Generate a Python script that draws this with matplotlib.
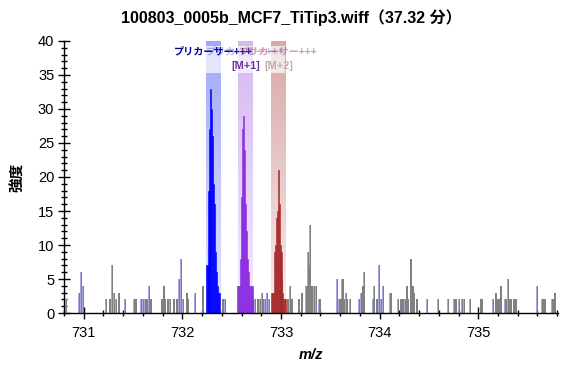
import numpy as np
import matplotlib
matplotlib.use("Agg")
import matplotlib.pyplot as plt
from matplotlib.colors import LinearSegmentedColormap

# ---------------- data ----------------
title = "100803_0005b_MCF7_TiTip3.wiff（37.32 分）"
x_label = "m/z"
y_label = "強度"

noise_mz = [730.825, 730.955, 730.977, 730.993, 731.230, 731.263, 731.287, 731.307,
            731.327, 731.357, 731.422, 731.516, 731.533, 731.584, 731.607, 731.628,
            731.645, 731.665, 731.678, 731.793, 731.813, 731.826, 731.853, 731.880,
            731.914, 731.944, 731.968, 731.988, 732.012, 732.046, 732.063, 732.130,
            732.207, 732.410, 732.435, 732.562, 732.720, 732.740, 732.765, 732.790,
            732.810, 732.820, 732.840, 732.860, 732.883, 733.068, 733.092, 733.108,
            733.180, 733.210, 733.260, 733.277, 733.287, 733.300, 733.310, 733.320,
            733.335, 733.355, 733.390, 733.400, 733.568, 733.574, 733.590, 733.608,
            733.625, 733.642, 733.662, 733.675, 733.700, 733.797, 733.817, 733.830,
            733.846, 733.938, 733.948, 733.972, 733.999, 734.016, 734.040, 734.107,
            734.117, 734.190, 734.216, 734.236, 734.260, 734.276, 734.290, 734.317,
            734.337, 734.353, 734.378, 734.485, 734.596, 734.697, 734.755, 734.772,
            734.806, 734.840, 734.856, 734.917, 735.025, 735.035, 735.153, 735.177,
            735.193, 735.210, 735.228, 735.278, 735.305, 735.320, 735.337, 735.360,
            735.380, 735.598, 735.653, 735.676, 735.750, 735.767, 735.777]
noise_int = [2, 3, 6, 4, 2, 2, 7, 3,
             2, 3, 2, 2, 2, 2, 2, 2,
             2, 4, 2, 2, 4, 2, 2, 2,
             2, 2, 5, 8, 2, 3, 2, 3,
             4, 2, 2, 4, 2, 2, 2, 2,
             3, 2, 2, 3, 2, 2, 4, 2,
             2, 3, 4, 9, 7, 13, 4, 4,
             4, 4, 2, 2, 2, 5, 2, 2,
             5, 2, 3, 2, 2, 2, 3, 4,
             6, 2, 4, 2, 7, 2, 4, 3,
             3, 2, 2, 2, 2, 4, 2, 8,
             4, 3, 2, 2, 2, 2, 2, 2,
             2, 2, 2, 2, 2, 2, 2, 3,
             2, 2, 4, 2, 5, 2, 2, 2,
             2, 4, 2, 2, 2, 2, 3]

mono_mz = [732.24, 732.25, 732.26, 732.27, 732.28, 732.29, 732.30, 732.31,
           732.32, 732.33, 732.34, 732.35, 732.36, 732.37, 732.38]
mono_int = [7, 7, 7, 18, 27, 33, 30, 26, 19, 16, 9, 6, 4, 3, 3]

m1_mz = [732.57, 732.58, 732.59, 732.60, 732.61, 732.62, 732.63, 732.64,
         732.65, 732.66, 732.67, 732.68, 732.69, 732.70, 732.71]
m1_int = [4, 4, 8, 17, 27, 29, 24, 16, 12, 8, 6, 4, 4, 4, 4]

m2_mz = [732.90, 732.91, 732.92, 732.93, 732.94, 732.95, 732.96, 732.97,
         732.98, 732.99, 733.00, 733.01, 733.02, 733.03, 733.04, 733.05]
m2_int = [3, 3, 3, 9, 10, 14, 15, 21, 16, 10, 9, 5, 3, 2, 2, 2]

band_center = [732.311, 732.643, 732.975]
band_halfwidth = 0.076
band_labels = ["プリカーサー+++", "プリカーサー+++", "プリカーサー+++"]
iso_tags = ["", "[M+1]", "[M+2]"]

x_ticks = [731, 732, 733, 734, 735]
y_ticks = [0, 5, 10, 15, 20, 25, 30, 35, 40]
x_range = (730.81, 735.81)
y_range = (0, 40)

# ---------------- style ----------------
peak_colors = ["#0000ff", "#8a2be2", "#a52a2a"]
band_top = ["#a0a8f8", "#d4b8f0", "#d8a8a8"]
band_bottom = ["#e2e6fb", "#f4eafc", "#f8ecec"]
label_colors = ["#0000a0", "#6a5acd", "#a52a2a"]
label_alpha = [1.0, 0.45, 0.45]
tag_colors = ["#000000", "#7030a0", "#c8a8a8"]

latin = "Liberation Sans"
cjk = "Noto Sans CJK JP"
plt.rcParams["font.family"] = [latin, cjk, "DejaVu Sans"]

fig = plt.figure(figsize=(5.82, 3.75), dpi=100)
ax = fig.add_axes([0.110, 0.1653, 0.849, 0.7254])

# bands with vertical gradient
grad = np.linspace(0, 1, 256).reshape(-1, 1)
for c, top, bot in zip(band_center, band_top, band_bottom):
    cmap = LinearSegmentedColormap.from_list("b", [bot, top])
    ax.imshow(grad, cmap=cmap, origin="lower", aspect="auto",
              extent=[c - band_halfwidth, c + band_halfwidth, y_range[0], y_range[1]],
              zorder=0, interpolation="bilinear")
# whitish label zone across the bands
ax.axhspan(35.3, 39.3, xmin=(band_center[0] - band_halfwidth - x_range[0]) / (x_range[1] - x_range[0]),
           xmax=(band_center[2] + band_halfwidth - x_range[0]) / (x_range[1] - x_range[0]),
           color="white", alpha=0.7, lw=0, zorder=1)

# noise peaks: lavender leading edge + gray body
ax.bar(np.array(noise_mz) - 0.006, noise_int, width=0.012, color="#a8a8dc", lw=0, zorder=2)
ax.bar(np.array(noise_mz) + 0.002, noise_int, width=0.014, color="#808080", lw=0, zorder=3)

# isotope peaks
for mz, it, col in zip([mono_mz, m1_mz, m2_mz], [mono_int, m1_int, m2_int], peak_colors):
    ax.bar(mz, it, width=0.0102, color=col, edgecolor=col, lw=0.4, zorder=4)

# labels
for c, lab, col, a in zip(band_center, band_labels, label_colors, label_alpha):
    ax.text(c, 38.4, lab, ha="center", va="center", fontsize=7.3, color=col, alpha=a,
            family=[cjk, "DejaVu Sans"], fontweight="bold", zorder=6)
for c, tag, col in zip(band_center, iso_tags, tag_colors):
    if tag:
        ax.text(c, 36.3, tag, ha="center", va="center", fontsize=7.8, color=col,
                family=[latin], fontweight="bold", zorder=6)

ax.set_xlim(*x_range)
ax.set_ylim(*y_range)

for s in ["top", "right"]:
    ax.spines[s].set_visible(False)
for s in ["left", "bottom"]:
    ax.spines[s].set_linewidth(1.0)
    ax.spines[s].set_zorder(7)

ax.set_xticks(x_ticks)
ax.set_yticks(y_ticks)
ax.set_xticks(np.arange(730.8, 735.81, 0.2), minor=True)
ax.set_yticks(np.arange(0, 41, 1), minor=True)
ax.tick_params(axis="both", which="major", direction="inout", length=8, width=1.0,
               labelsize=10.5, color="black")
ax.tick_params(axis="both", which="minor", direction="inout", length=4.5, width=1.0)
ax.tick_params(axis="x", pad=5)
ax.tick_params(axis="y", pad=3)

ax.set_xlabel(x_label, fontsize=10.5, fontweight="bold", fontstyle="italic", labelpad=6,
              family=[latin])
ax.set_ylabel(y_label, fontsize=10.5, fontweight="bold", labelpad=9, family=[cjk])

fig.text(0.5, 0.952, title, ha="center", va="center", fontsize=11.5, fontweight="bold",
         family=[latin, cjk])

fig.savefig("out.png", dpi=100)
